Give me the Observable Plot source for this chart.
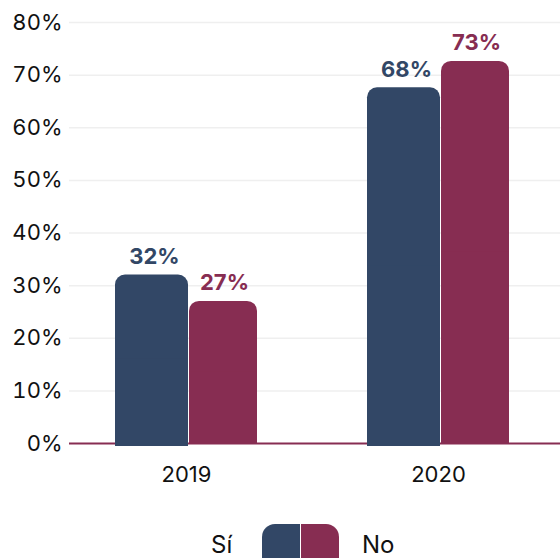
<!DOCTYPE html>
<html>
<head>
<meta charset="utf-8">
<script src="https://cdn.jsdelivr.net/npm/d3@7"></script>
<script src="https://cdn.jsdelivr.net/npm/@observablehq/plot@0.6"></script>
<style>
  html, body { margin: 0; padding: 0; background: white; overflow: hidden; }
  #chart { width: 560px; }
  #legend { position: relative; width: 560px; height: 58px; overflow: hidden; font-family: Inter, "Open Sans", sans-serif; font-size: 24px; color: #111; }
  #legend .lbl { position: absolute; line-height: 1; }
  #legend .sw { position: absolute; top: 24px; height: 60px; width: 38px; }
</style>
</head>
<body>
<div id="chart"></div>
<div id="legend">
  <span class="lbl" id="lblSi" style="left:211px; top:33px;"></span>
  <div class="sw" id="swSi" style="left:262px; border-top-left-radius:13px;"></div>
  <div class="sw" id="swNo" style="left:300px; border-top-right-radius:13px; border-left:1px solid #fff;"></div>
  <span class="lbl" id="lblNo" style="left:362px; top:33px;"></span>
</div>
<script>
const years = ["2019", "2020"];
const seriesNames = ["Sí", "No"];
const siValues = [32, 67.6];
const noValues = [27, 72.6];
const siLabels = ["32%", "68%"];
const noLabels = ["27%", "73%"];
const yTicks = [0, 10, 20, 30, 40, 50, 60, 70, 80];
const colors = { "Sí": "#324766", "No": "#872D52" };

const siData = years.map((y, i) => ({ year: y, value: siValues[i], label: siLabels[i] }));
const noData = years.map((y, i) => ({ year: y, value: noValues[i], label: noLabels[i] }));

const chart = Plot.plot({
  width: 560,
  height: 500,
  marginLeft: 69,
  marginRight: 0,
  marginTop: 22,
  marginBottom: 57,
  style: { fontFamily: "Inter, 'Open Sans', sans-serif", fontSize: "22px", color: "#111", background: "white", overflow: "visible" },
  x: { domain: years, range: [60, 564], padding: 0, label: null, tickSize: 0, tickPadding: 23 },
  y: { domain: [0, 80], ticks: yTicks, tickFormat: d => d + "%", label: null, tickSize: 0, tickPadding: 7 },
  marks: [
    Plot.ruleY(yTicks.filter(t => t > 0), { stroke: "#efefef", strokeWidth: 1.5 }),
    Plot.ruleY([0], { stroke: colors["No"], strokeWidth: 2 }),
    // Sí bars: rounded top, square bottom
    Plot.barY(siData, { x: "year", y: "value", fill: colors["Sí"], insetLeft: 55, insetRight: 124, rx: 10, insetBottom: -3 }),
    Plot.barY(siData, { x: "year", y: d => d.value / 2, fill: colors["Sí"], insetLeft: 55, insetRight: 124, insetBottom: -3 }),
    // No bars
    Plot.barY(noData, { x: "year", y: "value", fill: colors["No"], insetLeft: 129, insetRight: 55, rx: 10 }),
    Plot.barY(noData, { x: "year", y: d => d.value / 2, fill: colors["No"], insetLeft: 129, insetRight: 55 }),
    Plot.text(siData, { x: "year", y: "value", text: "label", dx: -32, dy: -18, fill: colors["Sí"], fontWeight: "bold", fontSize: 22 }),
    Plot.text(noData, { x: "year", y: "value", text: "label", dx: 38, dy: -18, fill: colors["No"], fontWeight: "bold", fontSize: 22 })
  ]
});
document.getElementById("chart").appendChild(chart);

document.getElementById("lblSi").textContent = seriesNames[0];
document.getElementById("lblNo").textContent = seriesNames[1];
document.getElementById("swSi").style.background = colors["Sí"];
document.getElementById("swNo").style.background = colors["No"];
</script>
</body>
</html>
